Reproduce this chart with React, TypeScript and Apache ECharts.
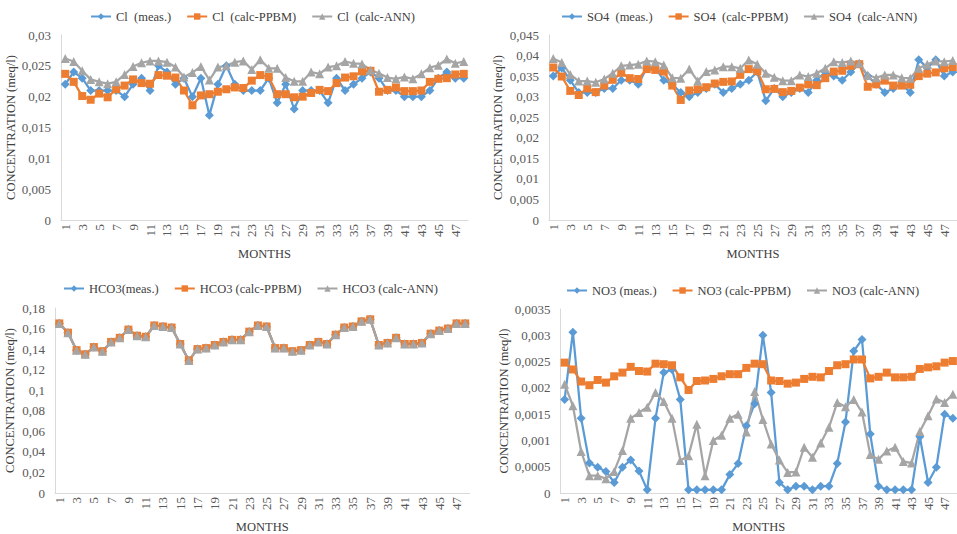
import React, { useEffect, useRef } from "react";
import * as echarts from "echarts";

const months = Array.from({ length: 48 }, (_, i) => String(i + 1));

const clMeas = [0.022,0.024,0.023,0.021,0.021,0.021,0.021,0.020,0.022,0.023,0.021,0.025,0.024,0.022,0.023,0.020,0.023,0.017,0.022,0.025,0.022,0.021,0.021,0.021,0.023,0.019,0.022,0.018,0.021,0.021,0.021,0.019,0.023,0.021,0.022,0.023,0.024,0.023,0.021,0.021,0.020,0.020,0.020,0.021,0.023,0.024,0.023,0.023];
const clPpbm = [0.0237,0.0224,0.0201,0.0195,0.0205,0.0199,0.0212,0.0218,0.0228,0.0222,0.0221,0.0235,0.0234,0.0231,0.021,0.0186,0.0202,0.0204,0.0208,0.0212,0.0215,0.0214,0.0226,0.0235,0.0232,0.0204,0.0204,0.0199,0.02,0.0206,0.0211,0.0209,0.0222,0.0231,0.0233,0.0241,0.0242,0.0208,0.0211,0.0215,0.0209,0.0209,0.021,0.0224,0.0229,0.023,0.0236,0.0237];
const clAnn = [0.0262,0.0257,0.0242,0.0228,0.0224,0.0221,0.0224,0.0236,0.0249,0.0255,0.0258,0.0258,0.0256,0.0248,0.0232,0.0239,0.0249,0.0227,0.0248,0.025,0.0256,0.0258,0.0244,0.026,0.0246,0.0246,0.0231,0.0225,0.0225,0.024,0.0237,0.0248,0.025,0.0257,0.0254,0.0253,0.0243,0.0238,0.0231,0.0229,0.0232,0.0229,0.0237,0.0247,0.0251,0.0261,0.0254,0.0257];

const so4Meas = [0.035,0.037,0.034,0.031,0.031,0.031,0.032,0.032,0.034,0.034,0.033,0.037,0.037,0.034,0.033,0.031,0.030,0.031,0.032,0.033,0.031,0.032,0.033,0.034,0.036,0.029,0.032,0.030,0.031,0.032,0.031,0.034,0.036,0.035,0.034,0.036,0.038,0.035,0.033,0.031,0.032,0.033,0.031,0.039,0.037,0.039,0.035,0.036];
const so4Ppbm = [0.0371,0.0349,0.0314,0.0304,0.032,0.0311,0.0327,0.0341,0.0358,0.0345,0.0343,0.0367,0.0365,0.0361,0.0327,0.0292,0.0315,0.0318,0.0323,0.0332,0.0336,0.0337,0.0353,0.0367,0.0362,0.0318,0.0319,0.0311,0.0314,0.0322,0.033,0.0328,0.0345,0.0361,0.0363,0.0375,0.0379,0.0324,0.033,0.0339,0.0327,0.0327,0.0329,0.035,0.0356,0.0359,0.0369,0.0372];
const so4Ann = [0.0393,0.0383,0.0354,0.0338,0.0338,0.0335,0.0343,0.0357,0.0375,0.0377,0.0379,0.0387,0.0385,0.0377,0.0346,0.0345,0.0367,0.0338,0.0361,0.0365,0.0373,0.0373,0.0369,0.0389,0.0379,0.0357,0.0347,0.0339,0.0339,0.0353,0.0349,0.0357,0.0369,0.0385,0.0383,0.0387,0.0381,0.0352,0.0346,0.0353,0.0353,0.0346,0.0345,0.0369,0.0379,0.0387,0.0385,0.0388];

const hco3Meas = [0.165,0.156,0.139,0.135,0.142,0.138,0.147,0.151,0.159,0.153,0.152,0.163,0.162,0.161,0.145,0.129,0.14,0.141,0.144,0.147,0.149,0.149,0.157,0.163,0.162,0.141,0.141,0.138,0.139,0.144,0.147,0.145,0.154,0.161,0.162,0.167,0.169,0.144,0.146,0.151,0.145,0.145,0.146,0.155,0.158,0.16,0.165,0.165];
const hco3Ppbm = [0.165,0.156,0.139,0.135,0.142,0.138,0.147,0.151,0.159,0.153,0.152,0.163,0.162,0.161,0.145,0.129,0.14,0.141,0.144,0.147,0.149,0.149,0.157,0.163,0.162,0.141,0.141,0.138,0.139,0.144,0.147,0.145,0.154,0.161,0.162,0.167,0.169,0.144,0.146,0.151,0.145,0.145,0.146,0.155,0.158,0.16,0.165,0.165];
const hco3Ann = [0.165,0.156,0.139,0.135,0.142,0.138,0.147,0.151,0.159,0.153,0.152,0.163,0.162,0.161,0.145,0.129,0.14,0.141,0.144,0.147,0.149,0.149,0.157,0.163,0.162,0.141,0.141,0.138,0.139,0.144,0.147,0.145,0.154,0.161,0.162,0.167,0.169,0.144,0.146,0.151,0.145,0.145,0.146,0.155,0.158,0.16,0.165,0.165];

const no3Meas = [0.00178,0.00306,0.00142,0.00057,0.00049,0.00041,0.0002,0.00049,0.00063,0.00042,0.00006,0.00142,0.00229,0.00235,0.00178,0.00006,0.00006,0.00006,0.00006,0.00006,0.00035,0.00056,0.00128,0.0017,0.003,0.00191,0.0002,0.00006,0.00013,0.00013,0.00006,0.00013,0.00013,0.00056,0.00135,0.0027,0.00292,0.00112,0.00013,0.00006,0.00006,0.00006,0.00006,0.00107,0.0002,0.00049,0.0015,0.00142];
const no3Ppbm = [0.00248,0.00235,0.00212,0.00205,0.00215,0.0021,0.00222,0.00229,0.0024,0.00232,0.00231,0.00246,0.00245,0.00243,0.0022,0.00196,0.00213,0.00214,0.00217,0.00222,0.00226,0.00226,0.00238,0.00246,0.00245,0.00214,0.00213,0.00208,0.0021,0.00217,0.00221,0.0022,0.00232,0.00243,0.00245,0.00254,0.00254,0.00218,0.00221,0.00229,0.0022,0.0022,0.00221,0.00236,0.00239,0.00241,0.00248,0.00251];
const no3Ann = [0.00207,0.00166,0.00079,0.00033,0.00033,0.00027,0.00041,0.00081,0.00142,0.00153,0.00163,0.00191,0.00174,0.00142,0.00062,0.00071,0.00131,0.00033,0.001,0.0011,0.00142,0.0015,0.00116,0.00193,0.0014,0.00093,0.00063,0.00039,0.0004,0.00087,0.00068,0.00095,0.00125,0.00172,0.00164,0.00178,0.00154,0.00073,0.00064,0.0008,0.00087,0.0006,0.00057,0.00117,0.00147,0.00179,0.00172,0.00188];

const names = [
  ["Cl  (meas.)", "Cl  (calc-PPBM)", "Cl  (calc-ANN)"],
  ["SO4  (meas.)", "SO4  (calc-PPBM)", "SO4  (calc-ANN)"],
  ["HCO3(meas.)", "HCO3 (calc-PPBM)", "HCO3 (calc-ANN)"],
  ["NO3 (meas.)", "NO3 (calc-PPBM)", "NO3 (calc-ANN)"],
];
const yMax = [0.03, 0.045, 0.18, 0.0035];
const yStep = [0.005, 0.005, 0.02, 0.0005];

const FONT = "Liberation Serif";
const BLUE = "#5B9BD5";
const ORANGE = "#ED7D31";
const GRAY = "#A5A5A5";

export default function App() {
  const ref = useRef<HTMLDivElement>(null);
  useEffect(() => {
    if (!ref.current) return;
    const chart = echarts.init(ref.current, null, { renderer: "svg" });
    const grids = [
      { left: 61, top: 35, width: 407, height: 185 },
      { left: 549, top: 35, width: 408, height: 185 },
      { left: 55, top: 308, width: 414.5, height: 186 },
      { left: 560.5, top: 309, width: 397.5, height: 185 },
    ];
    const nameGaps = [44, 45, 39, 49];
    const legendPos = [
      { left: 85, top: 5 },
      { left: 556, top: 5 },
      { left: 58, top: 277 },
      { left: 561, top: 279 },
    ];
    const data = [
      [clMeas, clPpbm, clAnn],
      [so4Meas, so4Ppbm, so4Ann],
      [hco3Meas, hco3Ppbm, hco3Ann],
      [no3Meas, no3Ppbm, no3Ann],
    ];
    const fmt = (v: number) =>
      v === 0 ? "0" : String(parseFloat(v.toFixed(5))).replace(".", ",");
    const styles = [
      { color: BLUE, symbol: "diamond", size: 9 },
      { color: ORANGE, symbol: "rect", size: 8 },
      { color: GRAY, symbol: "triangle", size: 9 },
    ];
    const series: any[] = [];
    data.forEach((group, gi) => {
      group.forEach((vals, si) => {
        const s = styles[si];
        series.push({
          type: "line",
          name: names[gi][si],
          xAxisIndex: gi,
          yAxisIndex: gi,
          data: vals,
          symbol: s.symbol,
          symbolSize: s.size,
          showSymbol: true,
          showAllSymbol: true,
          lineStyle: { color: s.color, width: 2.25 },
          itemStyle: { color: s.color },
        });
      });
    });
    chart.setOption({
      animation: false,
      backgroundColor: "#ffffff",
      textStyle: { fontFamily: FONT },
      grid: grids.map((g) => ({ ...g, containLabel: false })),
      legend: legendPos.map((p, i) => ({
        ...p,
        orient: "horizontal",
        data: names[i],
        itemWidth: 20,
        itemHeight: 8,
        itemGap: 15,
        textStyle: { fontFamily: FONT, fontSize: 12.5, color: "#404040" },
      })),
      xAxis: grids.map((_, i) => ({
        type: "category",
        gridIndex: i,
        data: months,
        boundaryGap: true,
        name: "MONTHS",
        nameLocation: "middle",
        nameGap: 27,
        nameTextStyle: { fontFamily: FONT, fontSize: 12.5, color: "#404040" },
        axisLine: { lineStyle: { color: "#D9D9D9", width: 1 } },
        axisTick: { show: false },
        axisLabel: {
          interval: 1,
          rotate: 90,
          margin: 4,
          fontFamily: FONT,
          fontSize: 13,
          color: "#595959",
        },
        splitLine: { show: false },
      })),
      yAxis: grids.map((_, i) => ({
        type: "value",
        gridIndex: i,
        min: 0,
        max: yMax[i],
        interval: yStep[i],
        name: "CONCENTRATION (meq/l)",
        nameLocation: "middle",
        nameGap: nameGaps[i],
        nameTextStyle: { fontFamily: FONT, fontSize: 12.5, color: "#404040" },
        axisLine: { show: true, lineStyle: { color: "#D9D9D9", width: 1 } },
        axisTick: { show: false },
        axisLabel: {
          margin: 10,
          fontFamily: FONT,
          fontSize: 13,
          color: "#595959",
          formatter: fmt,
        },
        splitLine: { show: false },
      })),
      series,
    });
    return () => chart.dispose();
  }, []);
  return (
    <div
      ref={ref}
      style={{ position: "fixed", left: 0, top: 0, width: 957, height: 534 }}
    />
  );
}
